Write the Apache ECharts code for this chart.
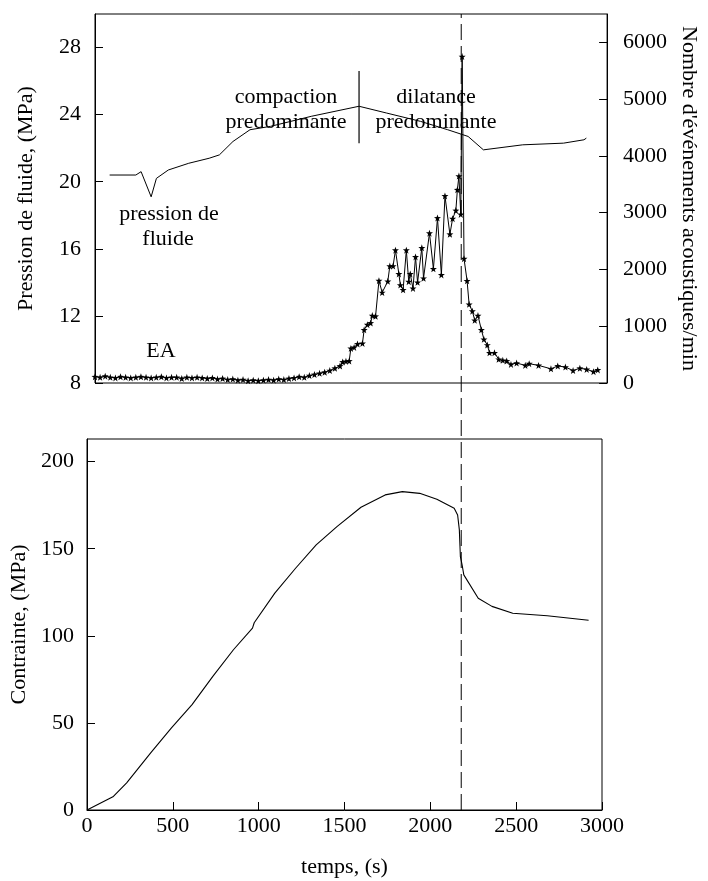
<!DOCTYPE html>
<html>
<head>
<meta charset="utf-8">
<script src="https://cdn.jsdelivr.net/npm/echarts@6/dist/echarts.min.js"></script>
<style>html,body{margin:0;padding:0;background:#fff;}#c{width:708px;height:881px;}</style>
</head>
<body>
<div id="c"></div>
<script>
// ---- data ----
const pressureTime = [86, 240, 271, 330, 361, 431, 551, 671, 731, 811, 911, 1031, 1271, 1552, 1712, 1913, 2073, 2193, 2283, 2514, 2754, 2874, 2888];
const pressureValue = [20.4, 20.4, 20.6, 19.1, 20.2, 20.7, 21.1, 21.4, 21.6, 22.4, 23.1, 23.3, 23.9, 24.5, 24.1, 23.6, 23.1, 22.7, 21.9, 22.2, 22.3, 22.5, 22.6];

const eaTime = [0, 30, 60, 90, 120, 150, 180, 210, 240, 270, 300, 330, 360, 390, 420, 450, 480, 510, 540, 570, 600,
  630, 660, 690, 720, 750, 780, 810, 840, 870, 900, 930, 960, 990, 1020, 1050, 1080, 1110,
  1140, 1170, 1200, 1230, 1260, 1290, 1320, 1350, 1380, 1410, 1440,
  1456, 1475, 1494, 1504, 1523, 1543, 1572, 1582, 1601, 1620, 1630, 1649, 1669, 1688, 1721, 1733, 1752, 1766,
  1786, 1795, 1811, 1830, 1844, 1853, 1869, 1884, 1896, 1921, 1931, 1966, 1989, 2013, 2036, 2057, 2086, 2102,
  2121, 2130, 2139, 2150, 2158, 2169, 2187, 2199, 2218, 2232, 2251, 2271, 2286, 2306, 2319, 2348, 2373, 2397,
  2420, 2445, 2478, 2529, 2552, 2607, 2680, 2720, 2765, 2810, 2850, 2890, 2930, 2955];
const eaCount = [110, 100, 120, 100, 90, 110, 100, 90, 100, 110, 100, 90, 100, 110, 90, 100, 100, 80, 100, 90, 100,
  90, 80, 90, 70, 80, 60, 70, 50, 60, 40, 50, 40, 50, 60, 50, 70, 60,
  80, 90, 110, 100, 130, 150, 170, 190, 220, 260, 300,
  370, 382, 388, 609, 627, 687, 698, 937, 1027, 1057, 1188, 1176, 1803, 1594, 1791, 2060, 2060, 2340,
  1922, 1725, 1642, 2340, 1785, 1922, 1666, 2221, 1773, 2382, 1845, 2639, 2012, 2907, 1904, 3295, 2621, 2895,
  3039, 3404, 3645, 2970, 5750, 2190, 1800, 1385, 1266, 1104, 1188, 937, 770, 669, 531, 531, 418, 400,
  388, 328, 352, 310, 340, 310, 250, 300, 280, 220, 260, 240, 200, 230];

const stressTime = [0, 151, 231, 371, 492, 612, 733, 853, 964, 974, 1094, 1215, 1335, 1456, 1596, 1737, 1837, 1938, 2038, 2139, 2159, 2169, 2175, 2185, 2195, 2279, 2359, 2480, 2681, 2922];
const stressValue = [0, 7.6, 15.6, 32.8, 47.1, 60.5, 76.7, 92.0, 104.4, 107.5, 124.5, 138.8, 152.2, 162.7, 173.8, 180.9, 182.8, 181.8, 178.4, 173.2, 169.4, 160.8, 145.5, 140.8, 135.0, 121.6, 116.9, 113.0, 111.5, 108.9];

const separatorTime = [1552, 1552];
const separatorPressure = [22.3, 26.6];
const dashedTime = [2180, 2180];
const dashedSpan = [0, 1];

const pressureTicks = [8, 30, 4];
const eaTicks = [0, 6500, 1000];
const stressTicks = [0, 213, 50];
const timeTicks = [0, 3000, 500];

// ---- styling ----
const FONT = "'Liberation Serif','Times New Roman',serif";
const BLACK = '#000';
const star = 'path://M0,-10 L2.35,-3.24 L9.51,-3.09 L3.8,1.24 L5.88,8.09 L0,4 L-5.88,8.09 L-3.8,1.24 L-9.51,-3.09 L-2.35,-3.24 Z';

const zip = (a, b) => a.map((v, i) => [v, b[i]]);
const plain = (v) => String(v);

const tickStyle = { show: true, inside: true, length: 8, lineStyle: { color: BLACK, width: 1 } };
const labelStyle = (margin, showMax) => ({ color: BLACK, fontFamily: FONT, fontSize: 22, margin: margin, showMaxLabel: showMax, formatter: plain });
const nameStyle = { color: BLACK, fontFamily: FONT, fontSize: 22 };

const chart = echarts.init(document.getElementById('c'), null, { renderer: 'canvas' });
const txt = (t, x, y) => ({ type: 'text', x: x, y: y, silent: true,
  style: { text: t, fill: BLACK, fontSize: 22, fontFamily: FONT, align: 'center', verticalAlign: 'middle', textAlign: 'center', textVerticalAlign: 'middle' } });

chart.setOption({
  animation: false,
  backgroundColor: '#fff',
  grid: [
    { left: 95, top: 14, width: 517, height: 369, show: true, borderColor: BLACK, borderWidth: 1 },
    { left: 87, top: 439, width: 515, height: 371, show: true, borderColor: BLACK, borderWidth: 1 },
    { left: 87, top: 14, width: 515, height: 796, show: false }
  ],
  xAxis: [
    { gridIndex: 0, type: 'value', min: 0, max: 3010, axisLine: { show: false }, axisTick: { show: false }, axisLabel: { show: false }, splitLine: { show: false } },
    { gridIndex: 1, type: 'value', min: timeTicks[0], max: timeTicks[1], interval: timeTicks[2],
      axisLine: { show: true, lineStyle: { color: BLACK } }, axisTick: tickStyle, axisLabel: labelStyle(5, true), splitLine: { show: false },
      name: 'temps, (s)', nameLocation: 'middle', nameGap: 46, nameTextStyle: nameStyle },
    { gridIndex: 2, type: 'value', min: timeTicks[0], max: timeTicks[1], show: false }
  ],
  yAxis: [
    { gridIndex: 0, type: 'value', position: 'left', min: pressureTicks[0], max: pressureTicks[1], interval: pressureTicks[2],
      axisLine: { show: true, lineStyle: { color: BLACK } }, axisTick: tickStyle, axisLabel: labelStyle(14, false), splitLine: { show: false },
      name: 'Pression de fluide, (MPa)', nameLocation: 'middle', nameGap: 58, nameTextStyle: nameStyle },
    { gridIndex: 0, type: 'value', position: 'right', min: eaTicks[0], max: eaTicks[1], interval: eaTicks[2],
      axisLine: { show: true, lineStyle: { color: BLACK } }, axisTick: tickStyle, axisLabel: labelStyle(16, false), splitLine: { show: false },
      name: "Nombre d'événements acoustiques/min", nameLocation: 'middle', nameRotate: -90, nameGap: 68, nameTextStyle: nameStyle },
    { gridIndex: 1, type: 'value', min: stressTicks[0], max: stressTicks[1], interval: stressTicks[2],
      axisLine: { show: true, lineStyle: { color: BLACK } }, axisTick: tickStyle, axisLabel: labelStyle(13, false), splitLine: { show: false },
      name: 'Contrainte, (MPa)', nameLocation: 'middle', nameGap: 52, nameTextStyle: nameStyle },
    { gridIndex: 2, type: 'value', min: 0, max: 1, show: false }
  ],
  series: [
    { type: 'line', xAxisIndex: 0, yAxisIndex: 0, data: zip(pressureTime, pressureValue), showSymbol: false, symbol: 'none',
      lineStyle: { color: BLACK, width: 1 } },
    { type: 'line', xAxisIndex: 0, yAxisIndex: 0, data: zip(separatorTime, separatorPressure), symbol: 'none',
      lineStyle: { color: BLACK, width: 1.2 } },
    { type: 'line', xAxisIndex: 0, yAxisIndex: 1, data: zip(eaTime, eaCount), symbol: star, symbolSize: 7, showAllSymbol: true,
      itemStyle: { color: BLACK }, lineStyle: { color: BLACK, width: 1 } },
    { type: 'line', xAxisIndex: 1, yAxisIndex: 2, data: zip(stressTime, stressValue), symbol: 'none',
      lineStyle: { color: BLACK, width: 1.1 } },
    { type: 'line', xAxisIndex: 2, yAxisIndex: 3, data: zip(dashedTime, dashedSpan), symbol: 'none', clip: false,
      lineStyle: { color: BLACK, width: 1, type: [16, 6] } }
  ],
  graphic: [
    txt('compaction', 286, 97), txt('predominante', 286, 122),
    txt('dilatance', 436, 97), txt('predominante', 436, 122),
    txt('pression de', 169, 214), txt('fluide', 168, 239),
    txt('EA', 161, 351)
  ]
});
</script>
</body>
</html>
